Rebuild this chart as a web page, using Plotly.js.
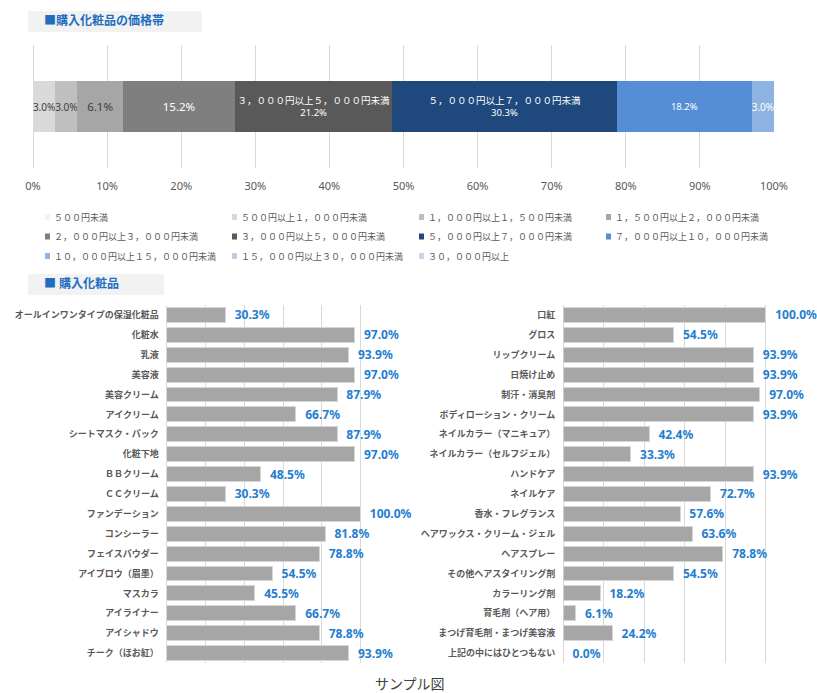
<!DOCTYPE html>
<html>
<head>
<meta charset="utf-8">
<script src="https://cdn.plot.ly/plotly-3.0.1.min.js"></script>
<style>html,body{margin:0;padding:0;background:#fff;}#chart{width:817px;height:693px;}</style>
</head>
<body>
<div id="chart"></div>
<script>
// ---- Data: price bands (top stacked bar) ----
const priceBands = [
  '５００円未満',
  '５００円以上１，０００円未満',
  '１，０００円以上１，５００円未満',
  '１，５００円以上２，０００円未満',
  '２，０００円以上３，０００円未満',
  '３，０００円以上５，０００円未満',
  '５，０００円以上７，０００円未満',
  '７，０００円以上１０，０００円未満',
  '１０，０００円以上１５，０００円未満',
  '１５，０００円以上３０，０００円未満',
  '３０，０００円以上'
];
const priceShares = [0, 3.0, 3.0, 6.1, 15.2, 21.2, 30.3, 18.2, 3.0, 0, 0];
const priceColors = ['#f2f2f2','#d9d9d9','#bfbfbf','#a6a6a6','#7f7f7f','#595959','#1f497d','#558ed5','#8db3e2','#b9cde5','#c6d9f1'];

// ---- Data: purchased cosmetics (left) ----
const leftItems = [
  'オールインワンタイプの保湿化粧品','化粧水','乳液','美容液','美容クリーム','アイクリーム',
  'シートマスク・パック','化粧下地','ＢＢクリーム','ＣＣクリーム','ファンデーション','コンシーラー',
  'フェイスパウダー','アイブロウ（眉墨）','マスカラ','アイライナー','アイシャドウ','チーク（ほお紅）'
];
const leftValues = [30.3, 97.0, 93.9, 97.0, 87.9, 66.7, 87.9, 97.0, 48.5, 30.3, 100.0, 81.8, 78.8, 54.5, 45.5, 66.7, 78.8, 93.9];

// ---- Data: purchased cosmetics (right) ----
const rightItems = [
  '口紅','グロス','リップクリーム','日焼け止め','制汗・消臭剤','ボディローション・クリーム',
  'ネイルカラー（マニキュア）','ネイルカラー（セルフジェル）','ハンドケア','ネイルケア','香水・フレグランス',
  'ヘアワックス・クリーム・ジェル','ヘアスプレー','その他ヘアスタイリング剤','カラーリング剤',
  '育毛剤（ヘア用）','まつげ育毛剤・まつげ美容液','上記の中にはひとつもない'
];
const rightValues = [100.0, 54.5, 93.9, 93.9, 97.0, 93.9, 42.4, 33.3, 93.9, 72.7, 57.6, 63.6, 78.8, 54.5, 18.2, 6.1, 24.2, 0.0];

const xTicks = [0,10,20,30,40,50,60,70,80,90,100];
const xTickLabels = ['0%','10%','20%','30%','40%','50%','60%','70%','80%','90%','100%'];

// ---- helpers ----
const W = 817, H = 693;
const px = v => v / W;
const py = v => 1 - v / H;
const FONT = "'Noto Sans', 'Noto Sans CJK JP', sans-serif";
const NB = '\u00a0\u00a0';

const withName = new Set([5, 6]);
const darkText = new Set([0, 1, 2, 3]);
const labelSize = [10, 10, 10, 11.5, 11.5, 9.5, 9.5, 9.5, 10, 10, 10];

const traces = [];
priceBands.forEach((name, i) => {
  const v = priceShares[i];
  let t = '';
  if (v > 0) t = (withName.has(i) ? name + '<br>' : '') + v.toFixed(1) + '%';
  traces.push({
    type: 'bar', orientation: 'h', name: name,
    x: [v], y: ['price'], xaxis: 'x', yaxis: 'y',
    width: 0.407,
    marker: {color: priceColors[i], line: {width: 0}},
    text: [t], textposition: 'inside', insidetextanchor: 'middle', textangle: 0,
    constraintext: 'none', cliponaxis: false,
    textfont: {family: FONT, size: labelSize[i], color: darkText.has(i) ? '#404040' : '#ffffff'},
    hoverinfo: 'skip', showlegend: false
  });
});

function catTrace(items, values, xa, ya) {
  return {
    type: 'bar', orientation: 'h',
    x: values, y: items, xaxis: xa, yaxis: ya,
    width: 0.75,
    marker: {color: '#a6a6a6', line: {color: '#d6d6d6', width: 1}},
    texttemplate: NB + '%{x:.1f}%', textposition: 'outside', textangle: 0,
    constraintext: 'none', cliponaxis: false,
    textfont: {family: FONT, size: 12, color: '#1f7ed0', weight: 700},
    hoverinfo: 'skip', showlegend: false
  };
}
traces.push(catTrace(leftItems, leftValues, 'x2', 'y2'));
traces.push(catTrace(rightItems, rightValues, 'x3', 'y3'));

// ---- section boxes, caption and legend built from the price band arrays ----
const shapes = [
  {type: 'rect', xref: 'paper', yref: 'paper', x0: px(28), x1: px(202), y0: py(32), y1: py(11), fillcolor: '#f2f2f2', line: {width: 0}, layer: 'below'},
  {type: 'rect', xref: 'paper', yref: 'paper', x0: px(28), x1: px(164), y0: py(295), y1: py(274), fillcolor: '#f2f2f2', line: {width: 0}, layer: 'below'}
];
const annotations = [
  {xref: 'paper', yref: 'paper', x: px(42), y: py(21), xanchor: 'left', yanchor: 'middle', showarrow: false,
   text: '■購入化粧品の価格帯', font: {family: FONT, size: 12, color: '#1f6ebf', weight: 700}},
  {xref: 'paper', yref: 'paper', x: px(42), y: py(283), xanchor: 'left', yanchor: 'middle', showarrow: false,
   text: '■ 購入化粧品', font: {family: FONT, size: 12, color: '#1f6ebf', weight: 700}},
  {xref: 'paper', yref: 'paper', x: px(410), y: py(683), xanchor: 'center', yanchor: 'middle', showarrow: false,
   text: 'サンプル図', font: {family: FONT, size: 14, color: '#404040'}}
];
priceBands.forEach((name, i) => {
  const c = i % 4, r = Math.floor(i / 4);
  const x0 = 45 + 187 * c, yc = 217 + 19.5 * r;
  shapes.push({type: 'rect', xref: 'paper', yref: 'paper', x0: px(x0), x1: px(x0 + 5), y0: py(yc + 3), y1: py(yc - 3),
    fillcolor: priceColors[i], line: {width: 0}});
  annotations.push({xref: 'paper', yref: 'paper', x: px(x0 + 7), y: py(yc), xanchor: 'left', yanchor: 'middle',
    showarrow: false, text: name, font: {family: FONT, size: 9, color: '#595959'}});
});

const gridC = '#d9d9d9';
const layout = {
  width: W, height: H,
  margin: {l: 0, r: 0, t: 0, b: 0},
  paper_bgcolor: '#ffffff', plot_bgcolor: '#ffffff',
  barmode: 'stack',
  font: {family: FONT, color: '#595959'},
  xaxis: {domain: [px(33), px(774)], anchor: 'y', range: [0, 100], tickmode: 'array', tickvals: xTicks, ticktext: xTickLabels,
    showgrid: true, gridcolor: gridC, zeroline: true, zerolinecolor: gridC, showline: false,
    ticks: '', ticklabelstandoff: 10, tickfont: {family: FONT, size: 11, color: '#595959'}, fixedrange: true},
  yaxis: {domain: [py(168), py(45)], anchor: 'x', range: [-0.5, 0.5], type: 'category',
    showticklabels: false, showgrid: false, zeroline: false, fixedrange: true},
  xaxis2: {domain: [px(166.7), px(399.3)], anchor: 'y2', range: [0, 120], dtick: 20,
    showticklabels: false, showgrid: true, gridcolor: gridC, zeroline: true, zerolinecolor: gridC, showline: false, fixedrange: true},
  yaxis2: {domain: [py(663), py(305)], anchor: 'x2', type: 'category', autorange: 'reversed',
    showgrid: false, zeroline: false, ticks: '', ticklabelstandoff: 7,
    tickfont: {family: FONT, size: 9, color: '#595959', weight: 700}, fixedrange: true},
  xaxis3: {domain: [px(563.3), px(806.5)], anchor: 'y3', range: [0, 120], dtick: 20,
    showticklabels: false, showgrid: true, gridcolor: gridC, zeroline: true, zerolinecolor: gridC, showline: false, fixedrange: true},
  yaxis3: {domain: [py(663), py(305)], anchor: 'x3', type: 'category', autorange: 'reversed',
    showgrid: false, zeroline: false, ticks: '', ticklabelstandoff: 7,
    tickfont: {family: FONT, size: 9, color: '#595959', weight: 700}, fixedrange: true},
  shapes: shapes,
  annotations: annotations,
  showlegend: false
};

Plotly.newPlot('chart', traces, layout, {displayModeBar: false, staticPlot: true});
</script>
</body>
</html>
